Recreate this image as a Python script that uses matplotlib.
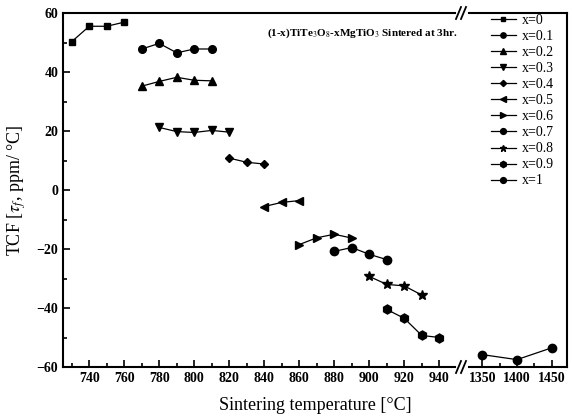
import matplotlib.pyplot as plt
from matplotlib.ticker import MultipleLocator

plt.rcParams['font.family'] = ['Liberation Serif', 'DejaVu Serif']
plt.rcParams['mathtext.fontset'] = 'stix'

# data: sintering temperature (C) and TCF (ppm/C) for each composition
labels = ['x=0', 'x=0.1', 'x=0.2', 'x=0.3', 'x=0.4', 'x=0.5',
          'x=0.6', 'x=0.7', 'x=0.8', 'x=0.9', 'x=1']
temps = [
    [730, 740, 750, 760],
    [770, 780, 790, 800, 810],
    [770, 780, 790, 800, 810],
    [780, 790, 800, 810, 820],
    [820, 830, 840],
    [840, 850, 860],
    [860, 870, 880, 890],
    [880, 890, 900, 910],
    [900, 910, 920, 930],
    [910, 920, 930, 940],
    [1350, 1400, 1450],
]
tcf = [
    [50.3, 55.5, 55.5, 56.9],
    [47.8, 49.7, 46.5, 47.8, 47.8],
    [35.2, 36.8, 38.2, 37.2, 37.0],
    [21.2, 19.8, 19.5, 20.2, 19.6],
    [10.8, 9.4, 8.8],
    [-5.6, -4.2, -3.6],
    [-18.5, -16.2, -15.0, -16.3],
    [-20.8, -19.5, -21.8, -23.6],
    [-29.3, -32.0, -32.5, -35.6],
    [-40.5, -43.5, -49.3, -50.0],
    [-55.8, -57.5, -53.5],
]
markers = ['s', 'o', '^', 'v', 'D', '<', '>', 'o', '*', 'h', 'o']
msizes = [5, 5.5, 5.5, 5.5, 4.5, 5.5, 5.5, 6, 7, 6.5, 6]

fig = plt.figure(figsize=(5.72, 4.17), dpi=100)
bot = 1 - 367 / 417
top = 1 - 13 / 417
ax1 = fig.add_axes([63 / 572, bot, (455 - 63) / 572, top - bot])
ax2 = fig.add_axes([469 / 572, bot, (567 - 469) / 572, top - bot], sharey=ax1)

handles = []
for lab, t, v, m, ms in zip(labels, temps, tcf, markers, msizes):
    ax = ax2 if t[0] > 1000 else ax1
    h, = ax.plot(t, v, color='black', lw=0.9, marker=m, ms=ms, label=lab)
    handles.append(h)

ax1.set_xlim(725, 949)
ax2.set_xlim(1331, 1472)
ax1.set_ylim(-60, 60)

ax1.xaxis.set_major_locator(MultipleLocator(20))
ax1.xaxis.set_minor_locator(MultipleLocator(10))
ax1.yaxis.set_major_locator(MultipleLocator(20))
ax1.yaxis.set_minor_locator(MultipleLocator(10))
ax2.xaxis.set_major_locator(MultipleLocator(50))
ax2.xaxis.set_minor_locator(MultipleLocator(25))

for ax in (ax1, ax2):
    for s in ax.spines.values():
        s.set_linewidth(1.5)
    ax.tick_params(which='both', direction='in', top=False, right=False, width=1.2)
    ax.tick_params(which='major', length=5, labelsize=10)
    ax.tick_params(which='minor', length=3)
    for tl in ax.get_xticklabels() + ax.get_yticklabels():
        tl.set_fontweight('bold')

ax1.spines['right'].set_visible(False)
ax2.spines['left'].set_visible(False)
ax2.tick_params(which='both', left=False, labelleft=False)

# break marks
for y in (bot, top):
    for dx in (-4, 1):
        x0 = 460 + dx
        fig.add_artist(plt.Line2D([x0 / 572, (x0 + 5) / 572],
                                  [y - 6 / 417, y + 6 / 417],
                                  color='black', lw=1.3))

ax1.set_ylabel(r'TCF [$\tau_f$, ppm/ °C]', fontsize=13, labelpad=6)
fig.text(315 / 572, 1 - 405 / 417, 'Sintering temperature [°C]',
         ha='center', va='center', fontsize=13)

fig.text(267 / 572, 1 - 33 / 417,
         r'(1-x)TiTe$_3$O$_8$-xMgTiO$_3$ Sintered at 3hr.',
         fontsize=8, fontweight='bold', va='center')

fig.legend(handles=handles, loc='upper left',
           bbox_to_anchor=(484 / 572, 1 - 7 / 417), frameon=False,
           fontsize=10, handlelength=1.8, handletextpad=0.4,
           labelspacing=0.22, borderpad=0, markerscale=0.7)

fig.savefig('out.png', dpi=100)
